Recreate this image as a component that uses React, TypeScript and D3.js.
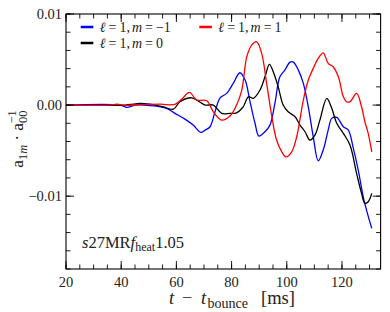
import React from 'react';
import * as d3 from 'd3';

// values (a_1m / a_00 versus t - t_bounce in ms)
const blueT = [20, 39.6, 42.1, 45, 50.4, 56.5, 59.5, 63.1, 66.1, 68.8, 70.4, 72.2, 74, 75.8, 78.2, 80.6, 83.0, 84.9, 86.7, 88.5, 89.9, 92.1, 93.9, 95.7, 97.5, 99.3, 101.2, 102.4, 104.2, 106.0, 107.8, 109.6, 111.4, 113.2, 115.0, 116.3, 118.1, 120.5, 122.3, 124.1, 125.9, 127.7, 128.9, 130.8];
const blueV = [0, 0, -0.00025, 0, -0.00005, -0.00036, -0.00091, -0.00154, -0.0022, -0.003, -0.00275, -0.00238, -0.00074, 0.00077, 0.00128, 0.00238, 0.00355, 0.00275, 0.00036, -0.002, -0.0034, -0.00293, -0.0022, 0.00019, 0.0031, 0.00384, 0.00472, 0.00472, 0.00384, 0.00238, -0.00019, -0.00348, -0.00612, -0.00494, -0.00275, -0.00146, -0.00135, -0.00238, -0.00275, -0.00472, -0.00714, -0.01007, -0.01153, -0.01354];

const blackT = [20, 41.4, 44.3, 46.8, 50.4, 55.1, 58.9, 61.3, 65.5, 67.8, 70.4, 73.4, 76.4, 79.4, 81.8, 84.2, 86.1, 87.9, 90.3, 92.1, 93.7, 95.1, 96.9, 98.7, 100.5, 103.0, 104.8, 106.6, 108.4, 110.2, 112.0, 114.5, 116.3, 118.1, 120.5, 122.9, 125.3, 127.1, 128.3, 129.5, 130.8];
const blackV = [0, 0, 0.0001, 0.00019, 0.0001, -0.00018, -0.00045, 0.00036, 0.0008, 0.00047, 0, 0, -0.00091, -0.00091, -0.00085, -0.00019, 0.00091, 0.00074, 0.00165, 0.0031, 0.00447, 0.00366, 0.002, 0, -0.00074, -0.00128, -0.0022, -0.00293, -0.00384, -0.0033, -0.00165, 0.00074, -0.00036, -0.002, -0.0031, -0.00439, -0.0075, -0.0097, -0.01079, -0.01062, -0.0097];

const redT = [20, 35.9, 38.5, 41.4, 46.8, 54.1, 59.5, 62.0, 64.7, 67.4, 71.0, 73.4, 76.4, 79.4, 81.8, 83.7, 85.5, 87.3, 89.1, 90.9, 92.7, 94.5, 96.3, 98.2, 99.7, 101.8, 103.6, 106.0, 107.8, 109.6, 111.4, 113.2, 115.0, 116.8, 118.7, 120.5, 121.7, 122.9, 125.3, 127.1, 128.3, 129.5, 130.8];
const redV = [0, 0, 0.0001, -0.00003, 0.00005, 0.0001, 0.00008, 0.00066, 0.00139, 0.00055, 0.00047, -0.00074, -0.00165, -0.00121, 0, 0.00165, 0.0053, 0.00659, 0.00695, 0.00568, 0.00238, -0.0011, -0.00384, -0.00513, -0.00568, -0.00513, -0.00348, 0.00055, 0.00275, 0.00403, 0.00513, 0.00574, 0.00458, 0.00421, 0.0031, 0.00091, 0.00036, 0.00036, 0.00128, -0.00019, -0.00183, -0.0031, -0.00513];

const xTickValues = [20, 40, 60, 80, 100, 120];
const yTickValues = [-0.01, 0, 0.01];
const yTickLabels = ['\u22120.01', '0.00', '0.01'];

const W = 390;
const H = 312;
const FONT = '"Liberation Serif", "DejaVu Serif", serif';

const x = d3.scaleLinear().domain([20, 134]).range([66, 380.6]);
const y = d3.scaleLinear().domain([-0.018, 0.01]).range([269, 14]);

const line = d3.line<[number, number]>()
  .x(d => x(d[0]))
  .y(d => y(d[1]))
  .curve(d3.curveCatmullRom.alpha(0.5));

const zip = (t: number[], v: number[]) => t.map((d, i) => [d, v[i]] as [number, number]);

const series = [
  { color: '#0000ff', pts: zip(blueT, blueV) },
  { color: '#000000', pts: zip(blackT, blackV) },
  { color: '#ff0000', pts: zip(redT, redV) },
];

const legend = [
  { color: '#0000ff', m: '\u22121', lx: 80.7, ly: 27 },
  { color: '#ff0000', m: '1', lx: 199.3, ly: 27 },
  { color: '#000000', m: '0', lx: 80.7, ly: 43 },
];

const Label = ({ m }: { m: string }) => (
  <>
    <tspan fontStyle="italic">ℓ</tspan>
    <tspan dx={3}>=</tspan>
    <tspan dx={3}>1,</tspan>
    <tspan dx={2} fontStyle="italic">m</tspan>
    <tspan dx={3}>=</tspan>
    <tspan dx={3}>{m}</tspan>
  </>
);

export default function App() {
  const [x0, x1] = x.range();
  const [yb, yt] = y.range();
  const xMinor = d3.range(20, 134, 5);
  const yMinor = d3.range(-18, 11, 2).map(d => d / 1000);
  const major = 8;
  const minor = 4.5;

  return (
    <svg width={W} height={H} style={{ position: 'absolute', left: 0, top: 0, background: '#fff' }} fontFamily={FONT}>
      <defs>
        <clipPath id="plot">
          <rect x={x0} y={yt} width={x1 - x0} height={yb - yt} />
        </clipPath>
      </defs>

      <g clipPath="url(#plot)">
        {series.map((s, i) => (
          <path key={i} d={line(s.pts) || ''} fill="none" stroke={s.color} strokeWidth={1.3} strokeLinejoin="round" />
        ))}
      </g>

      {/* ticks, inward on all four sides */}
      <g stroke="#000" strokeWidth={0.9}>
        {xMinor.map(t => (
          <g key={'xm' + t}>
            <line x1={x(t)} x2={x(t)} y1={yb} y2={yb - minor} />
            <line x1={x(t)} x2={x(t)} y1={yt} y2={yt + minor} />
          </g>
        ))}
        {xTickValues.map(t => (
          <g key={'xM' + t}>
            <line x1={x(t)} x2={x(t)} y1={yb} y2={yb - major} />
            <line x1={x(t)} x2={x(t)} y1={yt} y2={yt + major} />
          </g>
        ))}
        {yMinor.map(v => (
          <g key={'ym' + v}>
            <line x1={x0} x2={x0 + minor} y1={y(v)} y2={y(v)} />
            <line x1={x1} x2={x1 - minor} y1={y(v)} y2={y(v)} />
          </g>
        ))}
        {yTickValues.map(v => (
          <g key={'yM' + v}>
            <line x1={x0} x2={x0 + major} y1={y(v)} y2={y(v)} />
            <line x1={x1} x2={x1 - major} y1={y(v)} y2={y(v)} />
          </g>
        ))}
      </g>
      <rect x={x0} y={yt} width={x1 - x0} height={yb - yt} fill="none" stroke="#000" strokeWidth={1.1} />

      <g fontSize={14.5} fill="#222">
        {xTickValues.map(t => (
          <text key={t} x={x(t)} y={286.5} textAnchor="middle">{t}</text>
        ))}
        {yTickValues.map((v, i) => (
          <text key={v} x={62} y={y(v) + 5} textAnchor="end">{yTickLabels[i]}</text>
        ))}
      </g>

      {/* x label */}
      <text y={304} fontSize={18.5} fill="#222">
        <tspan x={169} fontStyle="italic">t</tspan>
        <tspan x={182}>−</tspan>
        <tspan x={201} fontStyle="italic">t</tspan>
        <tspan x={207.5} fontSize={14} dy={3.5}>bounce</tspan>
        <tspan x={261} dy={-3.5}>[ms]</tspan>
      </text>

      {/* y label */}
      <text transform="translate(23,139) rotate(-90)" fontSize={17.5} textAnchor="middle" fill="#222">
        <tspan>a</tspan>
        <tspan fontSize={12.5} dy={3.5}>1</tspan>
        <tspan fontSize={12.5} fontStyle="italic">m</tspan>
        <tspan dy={-3.5} dx={4}>·</tspan>
        <tspan dx={4}>a</tspan>
        <tspan fontSize={12.5} dy={3.5}>00</tspan>
        <tspan fontSize={12.5} dx={-13} dy={-11}>−1</tspan>
      </text>

      {/* annotation */}
      <text x={82} y={248} fontSize={16.5} fill="#222">
        <tspan fontStyle="italic">s</tspan>
        <tspan>27MR</tspan>
        <tspan fontStyle="italic">f</tspan>
        <tspan fontSize={12} dy={3}>heat</tspan>
        <tspan dy={-3}>1.05</tspan>
      </text>

      {/* legend */}
      {legend.map((l, i) => (
        <g key={i}>
          <line x1={l.lx} x2={l.lx + 12.6} y1={l.ly} y2={l.ly} stroke={l.color} strokeWidth={2.5} />
          <text x={l.lx + 19} y={l.ly + 4.5} fontSize={14} fill="#222">
            <Label m={l.m} />
          </text>
        </g>
      ))}
    </svg>
  );
}
